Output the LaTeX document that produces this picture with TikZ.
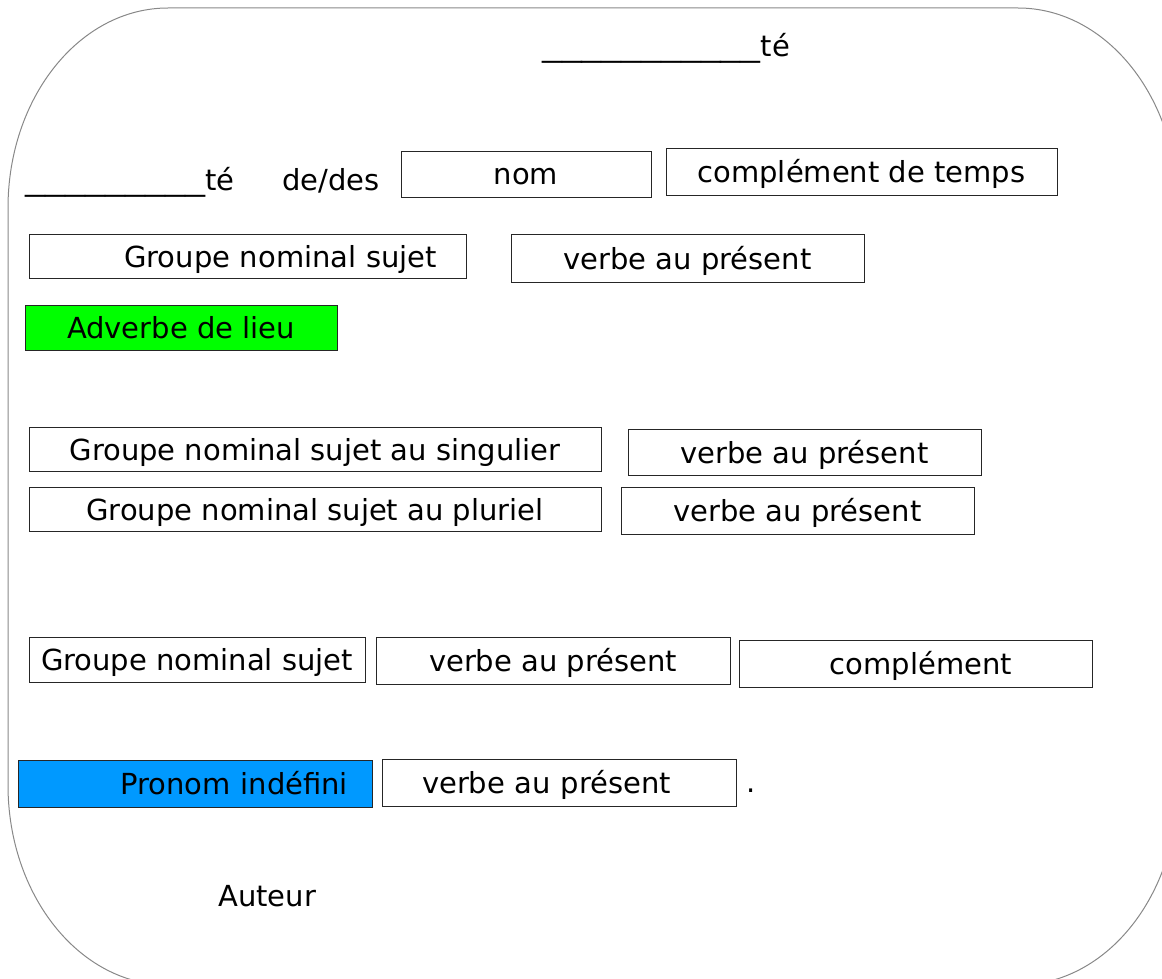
\documentclass[tikz,border=0pt]{standalone}
\usepackage{fontspec}
\setmainfont{DejaVu Sans}
\definecolor{gfill}{RGB}{0,255,0}
\definecolor{bfill}{RGB}{0,153,255}
\definecolor{framegray}{RGB}{136,136,136}
\begin{document}
\begin{tikzpicture}[x=1pt,y=-1pt,
  every node/.style={font=\fontsize{29}{34}\selectfont, text=black},
  box/.style={draw=black!85, line width=0.8pt, inner sep=0pt, text height=22pt, text depth=0pt},
  plain/.style={inner sep=0pt}]
\useasboundingbox (0,0) rectangle (1162,979);
\begin{scope}
\clip (0,0) rectangle (1162,979);
\draw[framegray, line width=1pt] (8,208) -- (8,785)
  arc[start angle=180,end angle=90,x radius=160,y radius=200] -- (1018,985)
  arc[start angle=90,end angle=0,x radius=160,y radius=200] -- (1178,208)
  arc[start angle=0,end angle=-90,x radius=160,y radius=200] -- (168,8)
  arc[start angle=-90,end angle=-180,x radius=160,y radius=200] -- cycle;
\end{scope}

\node[plain, anchor=base west] (title) at (542,57) {\scalebox{1.37}[1]{\_\_\_\_\_\_\_\_\_\_\_}té};
\node[plain, anchor=base west] (row1) at (25,190) {\scalebox{1.38}[1]{\_\_\_\_\_\_\_\_\_}té\hspace{48pt}de/des};

\node[box, minimum width=250, minimum height=46] (nom) at (526,174) {nom};
\node[box, minimum width=391, minimum height=47] (ct) at (861.5,171.5) {complément de temps};

\node[box, minimum width=437, minimum height=44, text width=379, align=right] (gn1) at (247.5,256) {Groupe nominal sujet};
\node[box, minimum width=353, minimum height=48] (vp1) at (687.5,258) {verbe au présent};

\node[box, fill=gfill, minimum width=312, minimum height=45] (adv) at (181,327.5) {Adverbe de lieu};

\node[box, minimum width=572, minimum height=44] (gns) at (315,449) {Groupe nominal sujet au singulier};
\node[box, minimum width=353, minimum height=46] (vp2) at (804.5,452) {verbe au présent};
\node[box, minimum width=572, minimum height=44] (gnp) at (315,509) {Groupe nominal sujet au pluriel};
\node[box, minimum width=353, minimum height=47] (vp3) at (797.5,510.5) {verbe au présent};

\node[box, minimum width=336, minimum height=45] (gn2) at (197,659.5) {Groupe nominal sujet};
\node[box, minimum width=354, minimum height=47] (vp4) at (553,660.5) {verbe au présent};
\node[box, minimum width=353, minimum height=47, text width=193, align=right] (cpl) at (915.5,663.5) {complément};

\node[box, fill=bfill, minimum width=354, minimum height=47, text width=306, align=right] (pro) at (195,783.5) {Pronom indéfini};
\node[box, minimum width=354, minimum height=47, text width=274, align=left] (vp5) at (559,782.5) {verbe au présent};
\node[plain, anchor=base west] (dot) at (746,792) {.};

\node[plain, anchor=base west] (auteur) at (218,906) {Auteur};
\end{tikzpicture}
\end{document}
